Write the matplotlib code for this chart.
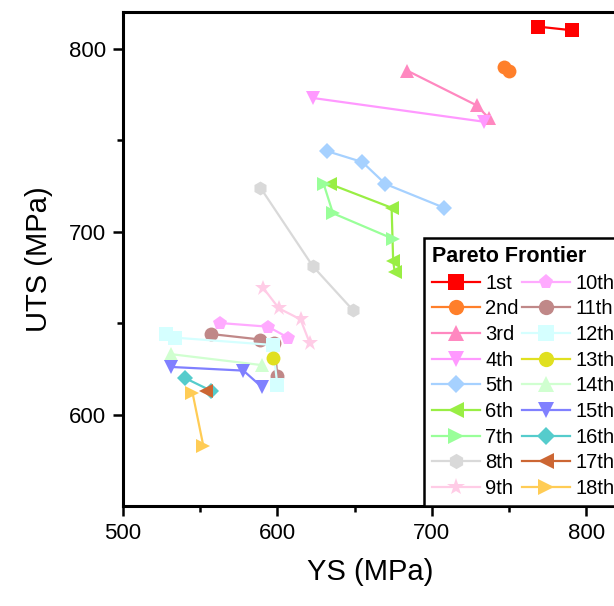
import matplotlib
matplotlib.use('Agg')
from matplotlib import pyplot as plt

plt.rcParams['font.family'] = ['Liberation Sans', 'DejaVu Sans']

# Pareto frontier data (YS, UTS) per rank
labels = ['1st', '2nd', '3rd', '4th', '5th', '6th', '7th', '8th', '9th',
          '10th', '11th', '12th', '13th', '14th', '15th', '16th', '17th', '18th']
ys = [
    [769, 791],
    [747, 750],
    [684, 729, 737],
    [623, 734],
    [632, 655, 670, 708],
    [634, 674, 675, 676],
    [630, 636, 675],
    [589, 623, 649],
    [591, 601, 615, 621],
    [563, 594, 607],
    [557, 589, 598, 600],
    [528, 534, 597, 600],
    [597],
    [531, 590],
    [531, 578, 590],
    [540, 557],
    [554],
    [545, 552],
]
uts = [
    [812, 810],
    [790, 788],
    [788, 769, 762],
    [773, 760],
    [744, 738, 726, 713],
    [726, 713, 684, 678],
    [726, 710, 696],
    [724, 681, 657],
    [669, 658, 652, 639],
    [650, 648, 642],
    [644, 641, 639, 621],
    [644, 642, 638, 616],
    [631],
    [633, 627],
    [626, 624, 615],
    [620, 613],
    [613],
    [612, 583],
]
colors = ['#FF0000', '#FF7F2A', '#FF88C0', '#FF99FF', '#A6D1FF', '#99EE44',
          '#99FF99', '#D9D9D9', '#FFCCE6', '#FFAAFF', '#C08888', '#D5FFFF',
          '#E0E020', '#D0FFD0', '#8080FF', '#55CCCC', '#CC6633', '#FFCC55']
markers = ['s', 'o', '^', 'v', 'D', '<', '>', 'h', '*', 'p', 'o', 's', 'o',
           '^', 'v', 'D', '<', '>']

fig = plt.figure(figsize=(6.14, 6.06), dpi=100)
ax = fig.add_axes([123 / 614, 100 / 606, 494 / 614, 494 / 606])

for i in range(len(labels)):
    ms = 8 if markers[i] == 'D' else 10
    if markers[i] == '*':
        ms = 12
    ax.plot(ys[i], uts[i], marker=markers[i], color=colors[i], markersize=ms,
            linewidth=1.6, label=labels[i], markeredgewidth=0)

ax.set_xlim(500, 820)
ax.set_ylim(550, 820)
ax.set_xticks([500, 600, 700, 800])
ax.set_yticks([600, 700, 800])
ax.set_xticks([550, 650, 750], minor=True)
ax.set_yticks([650, 750], minor=True)
ax.tick_params(which='major', direction='out', length=7, width=1.8, labelsize=16, pad=5)
ax.tick_params(which='minor', direction='out', length=4, width=1.8)
for s in ax.spines.values():
    s.set_linewidth(2.2)
ax.set_xlabel('YS (MPa)', fontsize=21, labelpad=10)
ax.set_ylabel('UTS (MPa)', fontsize=21, labelpad=12)

leg = ax.legend(ncol=2, loc='lower left', bbox_to_anchor=(0.609, 0.0),
                borderaxespad=0, fontsize=14.5, title='Pareto Frontier',
                title_fontproperties={'weight': 'bold', 'size': 15.5},
                fancybox=False, edgecolor='black', framealpha=1,
                handlelength=2.4, handletextpad=0.25, columnspacing=0.15,
                labelspacing=0.33, borderpad=0.4, markerscale=1.1,
                alignment='left')
leg.get_frame().set_linewidth(1.8)

plt.savefig('out.png', dpi=100)
